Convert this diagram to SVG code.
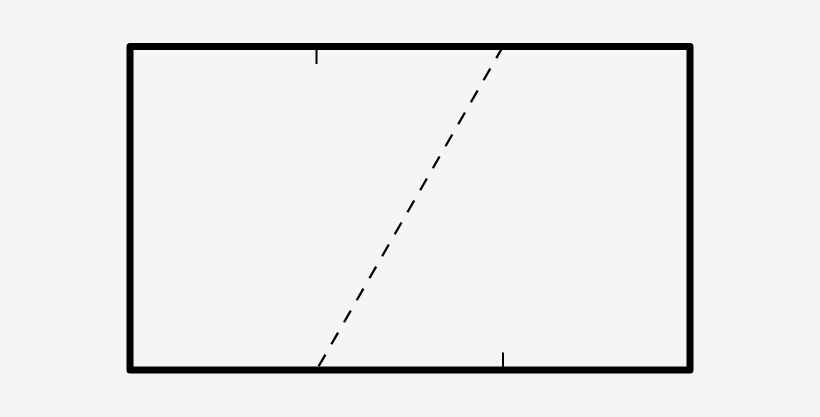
<svg xmlns="http://www.w3.org/2000/svg" width="820" height="417" viewBox="0 0 820 417">
<style>
.frame{fill:none;stroke:#000;stroke-width:7;stroke-linejoin:round}
.tick{stroke:#000;stroke-width:2}
.dash{stroke:#000;stroke-width:2.3;stroke-dasharray:13.5,11.9;fill:none}
.dot{fill:#000}
</style>
<rect width="820" height="417" fill="#f5f5f5"/>
<g id="frame">
<rect class="frame" x="130" y="46.5" width="560" height="323.5"/>
</g>
<g id="ticks">
<line class="tick" x1="316.5" y1="46" x2="316.5" y2="64"/>
<line class="tick" x1="503" y1="370" x2="503" y2="352.5"/>
</g>
<g id="connectors">
<line class="dash" x1="503" y1="46.5" x2="316.5" y2="370"/>
<circle class="dot" cx="316.5" cy="370" r="3"/>
<circle class="dot" cx="503" cy="46.5" r="3"/>
</g>
</svg>
